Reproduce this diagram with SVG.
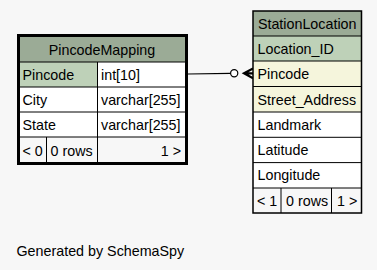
<svg xmlns="http://www.w3.org/2000/svg" width="377" height="270" viewBox="0 0 377 270">
  <style>
    text { font-family: "Liberation Sans", Arial, sans-serif; font-size: 14.3px; fill: #000; }
    .head { fill: #9bab96; }
    .pk { fill: #bed1b8; }
    .idx { fill: #f5f5dc; }
    .body { fill: #ffffff; }
    .foot { fill: #f7f7f7; }
    .grid { stroke: #000; stroke-width: 1; fill: none; }
    .mid { text-anchor: middle; }
    .end { text-anchor: end; }
  </style>
  <rect width="377" height="270" fill="#f7f7f7"/>

  <g id="connectors">
    <path d="M188,74 L230.6,73.3" stroke="#000" stroke-width="1.2" fill="none"/>
    <circle cx="234.2" cy="73.3" r="3.6" fill="#ffffff" stroke="#000" stroke-width="1.2"/>
    <!-- crow's foot: many-side end -->
    <path d="M253,68.6 L244,73.3 L253,78.2 M244,73.3 H253" stroke="#000" stroke-width="2.2" fill="none"/>
  </g>

  <g id="PincodeMapping">
    <rect class="head" x="19" y="36" width="167" height="26"/>
    <rect class="pk" x="19" y="62" width="78.5" height="25"/>
    <rect class="body" x="97.5" y="62" width="88.5" height="25"/>
    <rect class="body" x="19" y="87" width="167" height="50"/>
    <rect class="foot" x="19" y="137" width="167" height="25"/>
    <path class="grid" d="M19,62 H186 M19,87 H186 M19,112 H186 M19,137 H186 M97.5,62 V162 M46.5,137 V162"/>
    <rect x="18.5" y="35.5" width="168" height="128" fill="none" stroke="#000" stroke-width="3"/>
    <text class="mid" x="102" y="55">PincodeMapping</text>
    <text x="22.5" y="80">Pincode</text>
    <text x="101" y="80">int[10]</text>
    <text x="22.5" y="105">City</text>
    <text x="101" y="105">varchar[255]</text>
    <text x="22.5" y="130">State</text>
    <text x="101" y="130">varchar[255]</text>
    <text x="22.5" y="156">&lt; 0</text>
    <text x="50.5" y="156">0 rows</text>
    <text class="end" x="181" y="156">1 &gt;</text>
  </g>

  <g id="StationLocation">
    <rect class="head" x="253" y="11" width="108.5" height="25"/>
    <rect class="pk" x="253" y="36" width="108.5" height="25"/>
    <rect class="idx" x="253" y="61" width="108.5" height="51"/>
    <rect class="body" x="253" y="112" width="108.5" height="76"/>
    <rect class="foot" x="253" y="188" width="108.5" height="25"/>
    <path class="grid" d="M253,36 H361.5 M253,61 H361.5 M253,86.5 H361.5 M253,112 H361.5 M253,137.3 H361.5 M253,162.6 H361.5 M253,188 H361.5 M281,188 V213 M331.5,188 V213"/>
    <rect x="253" y="11" width="108.5" height="202" fill="none" stroke="#000" stroke-width="1.5"/>
    <text class="mid" x="307.2" y="28.5">StationLocation</text>
    <text x="257.5" y="53.5">Location_ID</text>
    <text x="257.5" y="79">Pincode</text>
    <text x="257.5" y="104.5">Street_Address</text>
    <text x="257.5" y="129.5">Landmark</text>
    <text x="257.5" y="154.5">Latitude</text>
    <text x="257.5" y="180">Longitude</text>
    <text x="257" y="205.5">&lt; 1</text>
    <text x="286" y="205.5">0 rows</text>
    <text x="337" y="205.5">1 &gt;</text>
  </g>

  <text x="16.5" y="255.5">Generated by SchemaSpy</text>
</svg>
